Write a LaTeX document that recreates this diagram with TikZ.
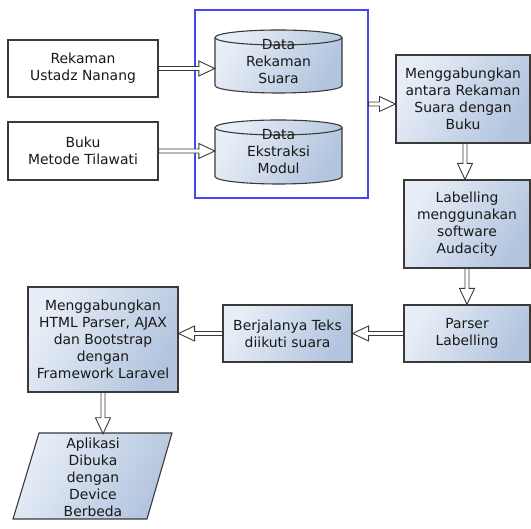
\documentclass[tikz,border=0pt]{standalone}
\usepackage{fontspec}
\setmainfont{DejaVu Sans}
\usetikzlibrary{calc}
\definecolor{lt}{HTML}{E8EEF7}
\definecolor{dk}{HTML}{B2C4DE}
\definecolor{edge}{HTML}{3A3A3A}
\definecolor{grpblue}{HTML}{4646F5}
% block arrow with double shaft and hollow head, from #1 to #2
\newcommand\barrow[2]{%
  \path (#1) coordinate (ba-s) (#2) coordinate (ba-e);
  \path ($(ba-e)!16pt!(ba-s)$) coordinate (ba-h);
  \filldraw[arr] ($(ba-s)!2pt!90:(ba-e)$) -- ($(ba-h)!2pt!-90:(ba-s)$)
     -- ($(ba-h)!7.5pt!-90:(ba-s)$) -- (ba-e) -- ($(ba-h)!7.5pt!90:(ba-s)$)
     -- ($(ba-h)!2pt!90:(ba-s)$) -- ($(ba-s)!2pt!-90:(ba-e)$) -- cycle;
}
% cylinder outline: centre x, centre y, half width, half height
\newcommand\cylshape[4]{%
  \shadedraw[cylst] (#1-#3,#2+#4-7.5) -- (#1-#3,#2-#4+7.5)
    arc[start angle=180,end angle=360,x radius=#3,y radius=7.5]
    -- (#1+#3,#2+#4-7.5)
    arc[start angle=0,end angle=180,x radius=#3,y radius=7.5] -- cycle;
  \draw[draw=edge,line width=1.1pt] (#1-#3,#2+#4-7.5)
    arc[start angle=180,end angle=360,x radius=#3,y radius=7.5];
}
\begin{document}
\begin{tikzpicture}[x=1pt,y=1pt,
  txt/.style={font=\fontsize{13.9}{17}\selectfont, align=center, text=black!90, inner sep=0pt},
  plainbox/.style={txt, draw=edge, line width=1.1pt, fill=white},
  gradbox/.style={txt, draw=edge, line width=1.1pt, left color=lt, right color=dk, shading angle=60},
  cylst/.style={draw=edge, line width=1.1pt, left color=lt, right color=dk, shading angle=60},
  arr/.style={draw=edge, fill=white, line width=0.9pt, line join=miter},
  grpbox/.style={draw=grpblue, line width=1.2pt, inner sep=0pt}]
\useasboundingbox (0,0) rectangle (531,529);

% input boxes
\node[plainbox, minimum width=150pt, minimum height=57pt] (b1) at (83,460.5) {Rekaman\\Ustadz Nanang};
\node[plainbox, minimum width=150pt, minimum height=58pt] (b2) at (83,378) {Buku\\Metode Tilawati};

% group rectangle
\node[grpbox, minimum width=173pt, minimum height=188pt] (grp) at (281.5,425) {};

% cylinders
\cylshape{278.5}{467.5}{63.5}{31.5}
\node[txt, minimum width=127pt, minimum height=63pt] (c1) at (278.5,467.5) {Data\\Rekaman\\Suara};
\cylshape{278.5}{377}{63.5}{32}
\node[txt, minimum width=127pt, minimum height=64pt] (c2) at (278.5,377) {Data\\Ekstraksi\\Modul};

% process boxes
\node[gradbox, minimum width=134pt, minimum height=88pt] (b3) at (463,430) {Menggabungkan\\antara Rekaman\\Suara dengan\\Buku};
\node[gradbox, minimum width=126pt, minimum height=88pt] (b4) at (467,305) {Labelling\\menggunakan\\software\\Audacity};
\node[gradbox, minimum width=126pt, minimum height=57pt] (b5) at (467,195.5) {Parser\\Labelling};
\node[gradbox, minimum width=129pt, minimum height=57pt] (b6) at (287.5,195.5) {Berjalanya Teks\\diikuti suara};
\node[gradbox, minimum width=150pt, minimum height=105pt] (b7) at (103,189.5) {Menggabungkan\\HTML Parser, AJAX\\dan Bootstrap\\dengan\\Framework Laravel};

% output parallelogram
\shadedraw[cylst] (39,96) -- (172,96) -- (147,10) -- (13,10) -- cycle;
\node[txt, minimum width=100pt, minimum height=86pt] (ap) at (93,52) {Aplikasi\\Dibuka\\dengan\\Device\\Berbeda};

% connectors
\barrow{b1.east}{c1.west |- b1.east}
\barrow{b2.east}{c2.west |- b2.east}
\barrow{grp.east}{b3.west |- grp.east}
\barrow{[xshift=2pt]b3.south}{[xshift=2pt]b3.south |- b4.north}
\barrow{b4.south}{b4.south |- b5.north}
\barrow{b5.west}{b6.east |- b5.west}
\barrow{b6.west}{b7.east |- b6.west}
\barrow{b7.south}{b7.south |- ap.north}
\end{tikzpicture}
\end{document}
